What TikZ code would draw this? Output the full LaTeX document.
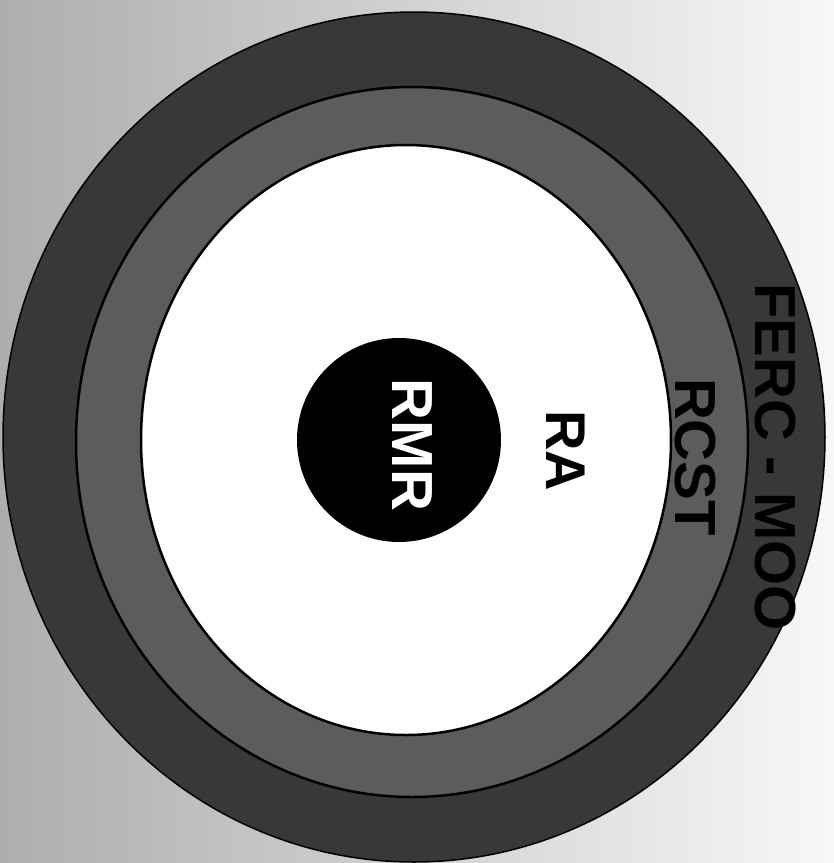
\documentclass[tikz,border=0pt]{standalone}
\usepackage{fontspec}
\setmainfont{Liberation Sans}
\usetikzlibrary{shapes.geometric}
\definecolor{ringouter}{gray}{0.22}
\definecolor{ringmid}{gray}{0.36}
\tikzset{
  disc/.style={ellipse, inner sep=0pt, outer sep=0pt, draw=black, line width=2.5pt},
  lbl/.style={inner sep=0pt, outer sep=0pt, font=\fontsize{58}{60}\selectfont\bfseries, rotate=-90}
}
\begin{document}
\begin{tikzpicture}[x=1pt,y=-1pt]
  \useasboundingbox (0,0) rectangle (834,863);
  \shade[left color=black!32, right color=black!3] (0,0) rectangle (834,863);
  \node[disc, fill=ringouter, line width=1.5pt, minimum width=822pt, minimum height=850pt] (outer) at (414,437) {};
  \node[disc, fill=ringmid, minimum width=672pt, minimum height=710pt] (middle) at (412,442) {};
  \node[disc, fill=white, minimum width=530pt, minimum height=590pt] (inner) at (406,440) {};
  \node[circle, fill=black, inner sep=0pt, minimum size=204pt] (core) at (399,440) {};
  \node[lbl, text=white] (rmr) at (412,445) {RMR};
  \node[lbl, text=black, font=\fontsize{56}{58}\selectfont\bfseries] (ra) at (566,451) {RA};
  \node[lbl, text=black] (rcst) at (695,457) {RCST};
  \node[lbl, text=black] (ferc) at (775,457) {FERC - MOO};
\end{tikzpicture}
\end{document}
